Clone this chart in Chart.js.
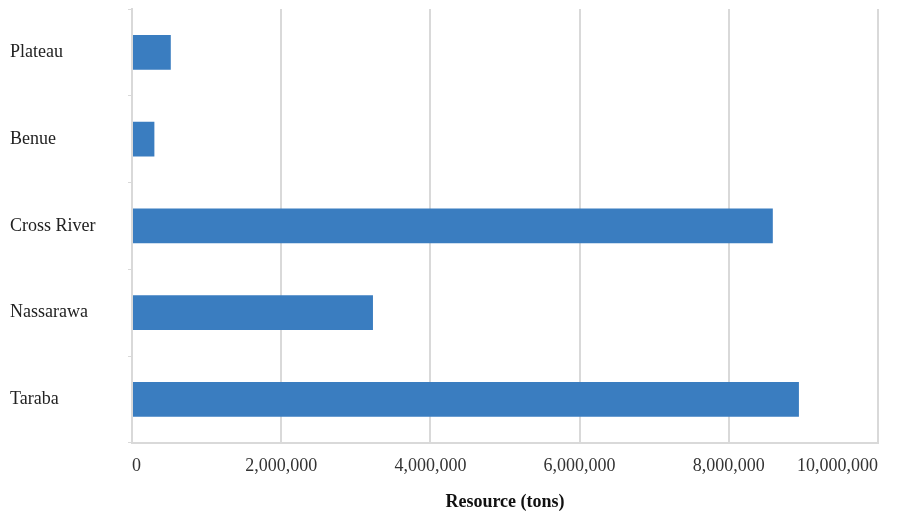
<!DOCTYPE html>
<html>
<head>
<meta charset="utf-8">
<style>
    body { margin: 0; background: #fff; }
    #wrap { width: 904px; height: 515px; }
</style>
</head>
<body>
<div id="wrap">
    <canvas id="resourceChart" width="904" height="515"></canvas>
</div>

<script src="https://cdn.jsdelivr.net/npm/chart.js@4.4.1/dist/chart.umd.min.js"></script>
<script>
    // States and estimated resource (tons)
    const states = ['Plateau', 'Benue', 'Cross River', 'Nassarawa', 'Taraba']
    const resourceTons = [520000, 300000, 8590000, 3230000, 8940000]
    const xTicks = [0, 2000000, 4000000, 6000000, 8000000, 10000000]

    const serif = "'Liberation Serif', 'Times New Roman', serif"
    const gridGrey = '#d9d9d9'

    const ctx = document.getElementById('resourceChart').getContext('2d')
    const chart = new Chart(ctx, {
        type: 'bar',
        data: {
            labels: states,
            datasets: [{
                label: 'Resource (tons)',
                data: resourceTons,
                backgroundColor: '#3a7dc0',
                borderWidth: 0,
                barPercentage: 0.4,
                categoryPercentage: 1
            }]
        },
        options: {
            indexAxis: 'y',
            responsive: false,
            animation: false,
            layout: {
                padding: { left: 10, right: 26, top: 9, bottom: 2 }
            },
            plugins: {
                legend: { display: false },
                tooltip: { enabled: false }
            },
            scales: {
                x: {
                    min: xTicks[0],
                    max: xTicks[xTicks.length - 1],
                    afterBuildTicks: scale => {
                        scale.ticks = xTicks.map(v => ({ value: v }))
                    },
                    grid: {
                        color: gridGrey,
                        lineWidth: 2,
                        drawTicks: false
                    },
                    border: { color: gridGrey, width: 2 },
                    ticks: {
                        align: 'inner',
                        padding: 13,
                        color: '#333',
                        font: { family: serif, size: 18 },
                        callback: v => Number(v).toLocaleString('en-US')
                    },
                    title: {
                        display: true,
                        text: 'Resource (tons)',
                        color: '#111',
                        padding: { top: 1, bottom: 0 },
                        font: { family: serif, size: 18, weight: 'bold' }
                    }
                },
                y: {
                    afterFit: scale => {
                        scale.width = 122
                        scale.paddingTop = 0
                        scale.paddingBottom = 0
                    },
                    grid: {
                        drawOnChartArea: false,
                        color: gridGrey,
                        tickLength: 4
                    },
                    border: { color: gridGrey, width: 2 },
                    ticks: {
                        crossAlign: 'far',
                        color: '#222',
                        font: { family: serif, size: 18 }
                    }
                }
            }
        }
    })
</script>
</body>
</html>
